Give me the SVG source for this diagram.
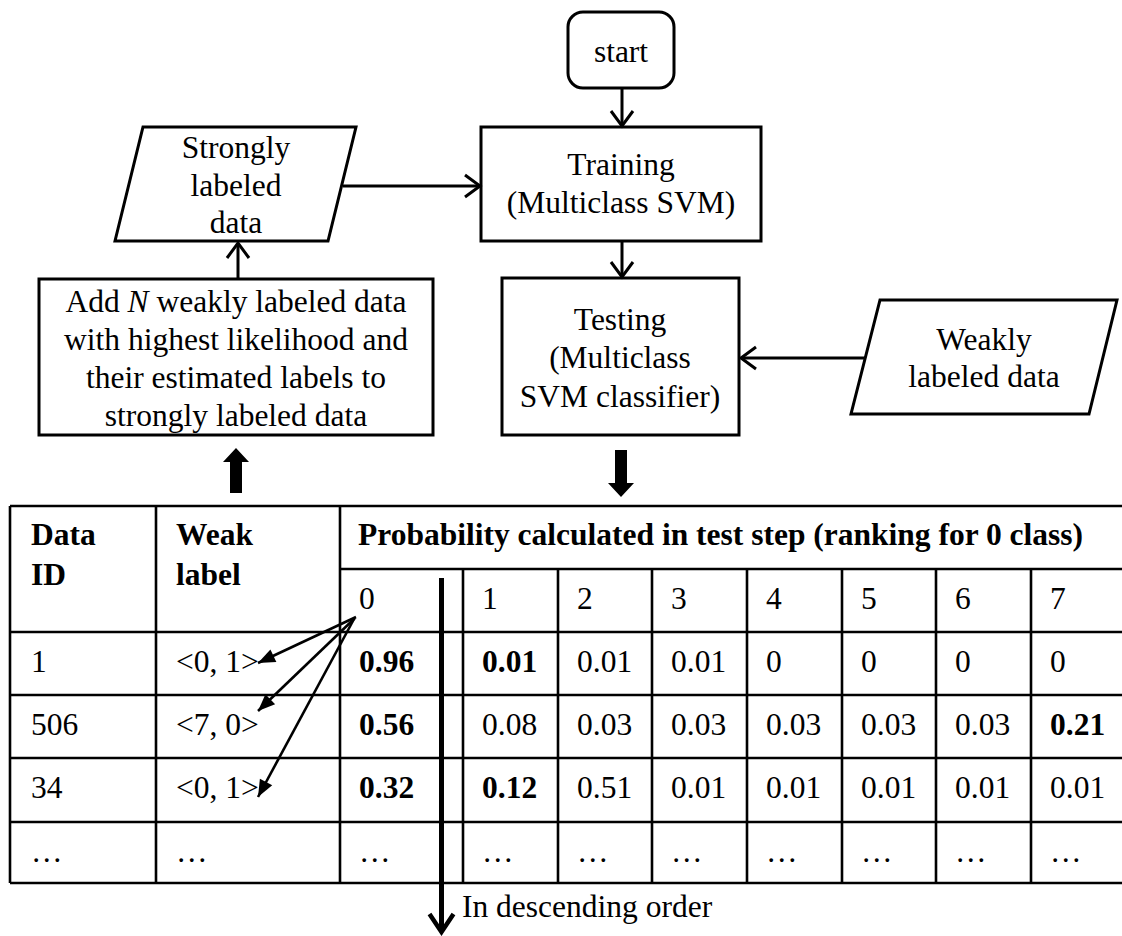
<svg xmlns="http://www.w3.org/2000/svg" width="1122" height="936" viewBox="0 0 1122 936">
  <style>
    text { font-family: "Liberation Serif", "Times New Roman", serif; font-size: 31.5px; fill: #000; }
    .c { text-anchor: middle; }
    .b { font-weight: bold; }
    .shape { fill: #fff; stroke: #000; stroke-width: 3; }
    .conn { fill: none; stroke: #000; stroke-width: 3; }
    .link { fill: none; stroke: #000; stroke-width: 2.6; }
    .rank { fill: none; stroke: #000; stroke-width: 5; }
    .grid { fill: none; stroke: #000; stroke-width: 2.6; }
    .block { fill: #000; stroke: none; }
  </style>
  <defs>
    <marker id="chev" markerUnits="userSpaceOnUse" markerWidth="40" markerHeight="40" viewBox="-20 -20 40 40" refX="0" refY="0" orient="auto">
      <path d="M-15 -11 L0 0 L-15 11" fill="none" stroke="#000" stroke-width="3"/>
    </marker>
    <marker id="chevBig" markerUnits="userSpaceOnUse" markerWidth="50" markerHeight="50" viewBox="-25 -25 50 50" refX="0" refY="0" orient="auto">
      <path d="M-18 -12 L0 0 L-18 12" fill="none" stroke="#000" stroke-width="4.5"/>
    </marker>
    <marker id="tri" markerUnits="userSpaceOnUse" markerWidth="30" markerHeight="30" viewBox="-20 -15 30 30" refX="0" refY="0" orient="auto">
      <path d="M0 0 L-17 -7 L-17 7 Z" fill="#000"/>
    </marker>
  </defs>

  <!-- flowchart nodes -->
  <g id="start">
    <rect class="shape" x="568" y="12" width="106" height="76" rx="15" ry="15"/>
    <text class="c" x="621" y="62">start</text>
  </g>

  <g id="training">
    <rect class="shape" x="481" y="127" width="280" height="114"/>
    <text class="c" x="621" y="175">Training</text>
    <text class="c" x="621" y="213">(Multiclass SVM)</text>
  </g>

  <g id="strongly-labeled">
    <polygon class="shape" points="143,127 356,127 328,241 115,241"/>
    <text class="c" x="236" y="158">Strongly</text>
    <text class="c" x="236" y="196">labeled</text>
    <text class="c" x="236" y="233">data</text>
  </g>

  <g id="add-data">
    <rect class="shape" x="39" y="279" width="394" height="156"/>
    <text class="c" x="236" y="312">Add <tspan font-style="italic">N</tspan> weakly labeled data</text>
    <text class="c" x="236" y="350">with highest likelihood and</text>
    <text class="c" x="236" y="388">their estimated labels to</text>
    <text class="c" x="236" y="426">strongly labeled data</text>
  </g>

  <g id="testing">
    <rect class="shape" x="502" y="278" width="237" height="157"/>
    <text class="c" x="620" y="330">Testing</text>
    <text class="c" x="620" y="368">(Multiclass</text>
    <text class="c" x="620" y="407">SVM classifier)</text>
  </g>

  <g id="weakly-labeled">
    <polygon class="shape" points="880,300 1117,300 1089,414 851,414"/>
    <text class="c" x="984" y="350">Weakly</text>
    <text class="c" x="984" y="387">labeled data</text>
  </g>

  <!-- probability table -->
  <g id="table">
    <g class="grid">
      <path d="M10 506 H1122 M340 569 H1122 M10 632 H1122 M10 695 H1122 M10 758 H1122 M10 822 H1122 M10 883 H1122"/>
      <path d="M10 506 V883 M156 506 V883 M340 506 V883"/>
      <path d="M463 569 V883 M558 569 V883 M652 569 V883 M747 569 V883 M842 569 V883 M936 569 V883 M1031 569 V883"/>
    </g>

    <!-- header -->
    <text class="b" x="31" y="545">Data</text>
    <text class="b" x="31" y="585">ID</text>
    <text class="b" x="176" y="545">Weak</text>
    <text class="b" x="176" y="585">label</text>
    <text class="b" x="358" y="545">Probability calculated in test step (ranking for 0 class)</text>
    <text x="359" y="609">0</text>
    <text x="482" y="609">1</text>
    <text x="577" y="609">2</text>
    <text x="671" y="609">3</text>
    <text x="766" y="609">4</text>
    <text x="861" y="609">5</text>
    <text x="955" y="609">6</text>
    <text x="1050" y="609">7</text>

    <!-- row 1 -->
    <text x="31" y="672">1</text>
    <text x="176" y="672">&lt;0, 1&gt;</text>
    <text class="b" x="359" y="672">0.96</text>
    <text class="b" x="482" y="672">0.01</text>
    <text x="577" y="672">0.01</text>
    <text x="671" y="672">0.01</text>
    <text x="766" y="672">0</text>
    <text x="861" y="672">0</text>
    <text x="955" y="672">0</text>
    <text x="1050" y="672">0</text>

    <!-- row 2 -->
    <text x="31" y="735">506</text>
    <text x="176" y="735">&lt;7, 0&gt;</text>
    <text class="b" x="359" y="735">0.56</text>
    <text x="482" y="735">0.08</text>
    <text x="577" y="735">0.03</text>
    <text x="671" y="735">0.03</text>
    <text x="766" y="735">0.03</text>
    <text x="861" y="735">0.03</text>
    <text x="955" y="735">0.03</text>
    <text class="b" x="1050" y="735">0.21</text>

    <!-- row 3 -->
    <text x="31" y="798">34</text>
    <text x="176" y="798">&lt;0, 1&gt;</text>
    <text class="b" x="359" y="798">0.32</text>
    <text class="b" x="482" y="798">0.12</text>
    <text x="577" y="798">0.51</text>
    <text x="671" y="798">0.01</text>
    <text x="766" y="798">0.01</text>
    <text x="861" y="798">0.01</text>
    <text x="955" y="798">0.01</text>
    <text x="1050" y="798">0.01</text>

    <!-- row 4 -->
    <text x="31" y="862">…</text>
    <text x="176" y="862">…</text>
    <text x="359" y="862">…</text>
    <text x="482" y="862">…</text>
    <text x="577" y="862">…</text>
    <text x="671" y="862">…</text>
    <text x="766" y="862">…</text>
    <text x="861" y="862">…</text>
    <text x="955" y="862">…</text>
    <text x="1050" y="862">…</text>

    <text x="462" y="917">In descending order</text>
  </g>

  <!-- connectors -->
  <g id="connectors">
    <line class="conn" x1="622" y1="88" x2="622" y2="126" marker-end="url(#chev)"/>
    <line class="conn" x1="343" y1="186" x2="480" y2="186" marker-end="url(#chev)"/>
    <line class="conn" x1="622" y1="241" x2="622" y2="277" marker-end="url(#chev)"/>
    <line class="conn" x1="866" y1="358" x2="741" y2="358" marker-end="url(#chev)"/>
    <line class="conn" x1="238" y1="279" x2="238" y2="243" marker-end="url(#chev)"/>

    <!-- block arrows between flowchart and table -->
    <polygon class="block" points="236,448 249,462 242,462 242,493 230,493 230,462 223,462"/>
    <polygon class="block" points="615,450 627,450 627,483 634,483 621,497 608,483 615,483"/>

    <!-- links from class 0 to weak labels -->
    <line class="link" x1="356" y1="617" x2="258" y2="663" marker-end="url(#tri)"/>
    <line class="link" x1="355" y1="618" x2="258" y2="711" marker-end="url(#tri)"/>
    <line class="link" x1="354" y1="619" x2="258" y2="797" marker-end="url(#tri)"/>

    <!-- ranking direction -->
    <line class="rank" x1="441.5" y1="578" x2="441.5" y2="932" marker-end="url(#chevBig)"/>
  </g>
</svg>
